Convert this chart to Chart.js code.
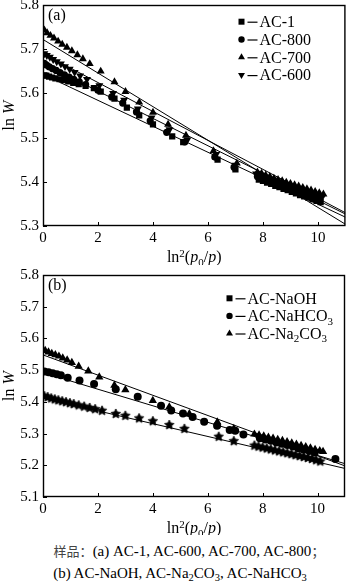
<!DOCTYPE html>
<html>
<head>
<meta charset="utf-8">
<script src="https://cdn.jsdelivr.net/npm/chart.js@4/dist/chart.umd.min.js"></script>
<style>
  html, body { margin: 0; padding: 0; background: #fff; }
  #wrap { position: relative; width: 350px; height: 587px; overflow: hidden; }
  canvas { position: absolute; left: 0; }
  #cA { top: 0; }
  #cB { top: 265px; }
  .cap { position: absolute; left: 0; text-align: center; white-space: nowrap;
         font-family: "Liberation Serif", "Times New Roman", serif; font-size: 15px;
         line-height: 20px; color: #000; }
  .cap .zh { font-family: "Noto Sans CJK SC", sans-serif; font-size: 13px; color: #444; }
  .cap sub { font-size: 70%; vertical-align: -0.25em; line-height: 0; }
</style>
</head>
<body>
<div id="wrap">
  <canvas id="cA" width="350" height="265" style="width:350px;height:265px"></canvas>
  <canvas id="cB" width="350" height="270" style="width:350px;height:270px"></canvas>
  <div class="cap" style="top:541px;width:378px"><span class="zh">样品：</span>(a) AC-1, AC-600, AC-700, AC-800<span class="zh">；</span></div>
  <div class="cap" style="top:563px;width:360px">(b) AC-NaOH, AC-Na<sub>2</sub>CO<sub>3</sub>, AC-NaHCO<sub>3</sub></div>
</div>
<script>
const SERIF = '"Liberation Serif", "Times New Roman", serif';

// ---- axis ticks ----
const xTickValues = [0, 2, 4, 6, 8, 10];
const yTicksA = [5.3, 5.4, 5.5, 5.6, 5.7, 5.8];
const yTicksB = [5.1, 5.2, 5.3, 5.4, 5.5, 5.6, 5.7, 5.8];

// ---- panel (a): ln W versus ln^2(p0/p) ----
const x_AC1 = [0.05,0.12,0.22,0.33,0.45,0.6,0.75,0.92,1.1,1.3,1.55,1.85,2.1,2.6,3.05,3.5,4.0,4.7,5.1,6.35,7.0,7.85,8.0,8.15,8.3,8.45,8.6,8.75,8.9,9.05,9.2,9.35,9.5,9.65,9.8,9.95,10.1];
const y_AC1 = [5.641,5.640,5.638,5.636,5.634,5.632,5.630,5.627,5.624,5.621,5.617,5.612,5.604,5.588,5.568,5.550,5.530,5.503,5.490,5.450,5.428,5.405,5.402,5.398,5.395,5.391,5.388,5.384,5.381,5.377,5.374,5.370,5.367,5.364,5.360,5.357,5.354];

const x_AC800 = [0.05,0.13,0.23,0.35,0.48,0.62,0.78,0.95,1.12,1.32,1.55,2.0,2.5,2.9,3.4,3.9,4.5,5.15,6.25,6.95,7.8,7.95,8.1,8.25,8.4,8.55,8.7,8.85,9.0,9.15,9.3,9.45,9.6,9.75,9.9,10.05];
const y_AC800 = [5.668,5.664,5.660,5.656,5.652,5.647,5.642,5.637,5.632,5.626,5.620,5.607,5.592,5.578,5.558,5.538,5.512,5.490,5.456,5.433,5.412,5.409,5.405,5.402,5.398,5.395,5.391,5.388,5.384,5.381,5.377,5.374,5.370,5.367,5.363,5.360];

const x_AC700 = [0.05,0.15,0.27,0.4,0.55,0.7,0.87,1.05,1.25,1.45,1.7,2.1,2.6,3.0,3.5,4.0,4.55,5.2,6.2,7.05,7.8,7.95,8.1,8.25,8.4,8.55,8.7,8.85,9.0,9.15,9.3,9.45,9.6,9.75,9.9,10.05,10.2];
const y_AC700 = [5.743,5.737,5.731,5.725,5.718,5.711,5.704,5.696,5.687,5.678,5.667,5.650,5.626,5.604,5.580,5.557,5.530,5.505,5.470,5.442,5.422,5.419,5.415,5.412,5.408,5.405,5.402,5.399,5.396,5.393,5.390,5.387,5.384,5.381,5.378,5.375,5.372];

const x_AC600 = [0.05,0.14,0.25,0.37,0.5,0.65,0.8,0.97,1.15,1.35,1.6,2.05,2.55,2.95,3.45,3.95,4.6,5.25,6.3,7.0,7.75,7.9,8.05,8.2,8.35,8.5,8.65,8.8,8.95,9.1,9.25,9.4,9.55,9.7,9.85,10.0,10.15];
const y_AC600 = [5.690,5.686,5.682,5.677,5.672,5.667,5.661,5.655,5.648,5.640,5.632,5.618,5.600,5.585,5.565,5.545,5.518,5.495,5.462,5.438,5.418,5.415,5.411,5.408,5.404,5.401,5.397,5.394,5.391,5.387,5.384,5.381,5.377,5.374,5.371,5.368,5.365];

// straight-line fits, evaluated at both ends of the x range
const fitX = [0, 11];
const fit_AC1   = [5.643, 5.320];
const fit_AC800 = [5.667, 5.327];
const fit_AC700 = [5.722, 5.304];
const fit_AC600 = [5.690, 5.330];

// ---- panel (b) ----
const x_NaOH = [0.05,0.17,0.3,0.43,0.56,0.7,0.84,0.98,1.12,1.3,1.5,1.7,1.9,2.15,2.65,3.0,3.5,4.0,4.6,5.15,6.4,6.95,7.7,7.85,8.0,8.15,8.3,8.45,8.6,8.75,8.9,9.05,9.2,9.35,9.5,9.65,9.8,9.95,10.1];
const y_NaOH = [5.418,5.415,5.411,5.408,5.405,5.402,5.399,5.396,5.393,5.389,5.385,5.381,5.377,5.372,5.362,5.356,5.348,5.339,5.327,5.315,5.290,5.276,5.262,5.259,5.256,5.253,5.250,5.247,5.244,5.241,5.238,5.235,5.232,5.229,5.226,5.223,5.220,5.216,5.212];

const x_NaHCO3 = [0.05,0.2,0.35,0.5,0.65,0.9,1.33,1.86,2.65,3.45,4.3,4.67,5.1,5.45,5.87,6.34,6.8,7.0,7.3,7.9,8.1,8.3,8.5,8.7,8.9,9.1,9.3,9.5,9.7,9.9,10.65];
const y_NaHCO3 = [5.496,5.493,5.490,5.487,5.484,5.476,5.467,5.456,5.440,5.416,5.388,5.373,5.363,5.352,5.337,5.325,5.311,5.309,5.297,5.285,5.281,5.277,5.272,5.268,5.264,5.259,5.254,5.249,5.245,5.240,5.220];

const x_Na2CO3 = [0.08,0.2,0.32,0.45,0.58,0.72,0.88,1.05,1.3,1.65,2.05,2.6,3.0,4.0,4.6,5.33,6.35,6.95,7.7,7.87,8.04,8.21,8.38,8.55,8.72,8.89,9.06,9.23,9.4,9.57,9.74,9.91,10.08,10.2];
const y_Na2CO3 = [5.562,5.557,5.552,5.548,5.544,5.538,5.532,5.524,5.512,5.497,5.478,5.452,5.438,5.404,5.384,5.362,5.336,5.316,5.298,5.295,5.292,5.288,5.285,5.281,5.278,5.274,5.270,5.266,5.262,5.258,5.254,5.250,5.246,5.243];

const fit_NaOH   = [5.412, 5.190];
const fit_NaHCO3 = [5.492, 5.205];
const fit_Na2CO3 = [5.548, 5.198];

// ---------------------------------------------------------------------------
// small rich-text renderer: *italic*, _{sub}, ^{sup}
function parseRich(s) {
  const segs = []; let i = 0, italic = false, buf = '';
  const push = (t, mode) => { if (t) segs.push({ t, italic, mode }); };
  while (i < s.length) {
    const c = s[i];
    if (c === '*') { push(buf, 'n'); buf = ''; italic = !italic; i++; }
    else if ((c === '_' || c === '^') && s[i + 1] === '{') {
      push(buf, 'n'); buf = '';
      const j = s.indexOf('}', i);
      push(s.slice(i + 2, j), c === '_' ? 'sub' : 'sup');
      i = j + 1;
    } else { buf += c; i++; }
  }
  push(buf, 'n');
  return segs;
}
function drawRich(ctx, s, x, y, size, align) {
  const segs = parseRich(s);
  const fontFor = g => (g.italic ? 'italic ' : '') + (g.mode === 'n' ? size : Math.round(size * 0.68)) + 'px ' + SERIF;
  let w = 0;
  segs.forEach(g => { ctx.font = fontFor(g); g.w = ctx.measureText(g.t).width; w += g.w; });
  let cx = align === 'center' ? x - w / 2 : align === 'right' ? x - w : x;
  ctx.textAlign = 'left'; ctx.textBaseline = 'alphabetic';
  const base = y + size * 0.33;
  segs.forEach(g => {
    ctx.font = fontFor(g);
    const dy = g.mode === 'sub' ? size * 0.22 : g.mode === 'sup' ? -size * 0.36 : 0;
    ctx.fillText(g.t, cx, base + dy);
    cx += g.w;
  });
}

function drawMarker(ctx, style, x, y, r) {
  ctx.beginPath();
  if (style === 'rect') {
    const h = r * 0.75; ctx.rect(x - h, y - h, 2 * h, 2 * h);
  } else if (style === 'circle') {
    ctx.arc(x, y, r * 0.8, 0, Math.PI * 2);
  } else {
    const k = style === 'triangleDown' ? -1 : 1;
    ctx.moveTo(x, y - k * r); ctx.lineTo(x + r * 0.87, y + k * r * 0.5); ctx.lineTo(x - r * 0.87, y + k * r * 0.5);
    ctx.closePath();
  }
  ctx.fill();
}

function starImage(r) {
  const s = Math.ceil(r * 2) + 2;
  const c = document.createElement('canvas'); c.width = s; c.height = s;
  const g = c.getContext('2d'); g.fillStyle = '#000'; g.strokeStyle = '#000'; g.lineWidth = 0.8; g.beginPath();
  for (let k = 0; k < 10; k++) {
    const a = -Math.PI / 2 + k * Math.PI / 5, rr = k % 2 ? r * 0.5 : r;
    g.lineTo(s / 2 + rr * Math.cos(a), s / 2 + rr * Math.sin(a));
  }
  g.closePath(); g.fill(); g.stroke();
  return c;
}

// frame box with inward tick marks, plus titles, panel tag and legend
const decorPlugin = {
  id: 'decor',
  afterDatasetsDraw(chart, args, o) {
    const { ctx, chartArea: a, scales: { x, y } } = chart;
    ctx.save();
    ctx.strokeStyle = '#000'; ctx.lineWidth = 1.4;
    ctx.strokeRect(a.left + 0.5, a.top + 0.5, a.right - a.left - 1, a.bottom - a.top - 1);
    ctx.lineWidth = 1; ctx.beginPath();
    x.ticks.forEach(t => { const px = Math.round(x.getPixelForValue(t.value)) + 0.5; ctx.moveTo(px, a.bottom); ctx.lineTo(px, a.bottom - 4); });
    y.ticks.forEach(t => { const py = Math.round(y.getPixelForValue(t.value)) + 0.5; ctx.moveTo(a.left, py); ctx.lineTo(a.left + 4, py); });
    ctx.stroke();

    ctx.fillStyle = '#000';
    drawRich(ctx, o.xTitle, (a.left + a.right) / 2, o.xTitleY, 16, 'center');
    ctx.save();
    ctx.translate(o.yTitleX, (a.top + a.bottom) / 2); ctx.rotate(-Math.PI / 2);
    drawRich(ctx, o.yTitle, 0, 0, 16, 'center');
    ctx.restore();
    drawRich(ctx, o.tag, a.left + 5, a.top + o.tagDy, 16, 'left');

    const L = o.legend;
    L.items.forEach((it, i) => {
      const yy = L.y + i * L.dy;
      drawMarker(ctx, it.marker, L.x, yy, 4);
      ctx.beginPath(); ctx.moveTo(L.x + 6, yy + 0.5); ctx.lineTo(L.x + 16, yy + 0.5); ctx.lineWidth = 1.2; ctx.stroke();
      drawRich(ctx, chart.data.datasets[it.ds].label, L.x + 18, yy, 16, 'left');
    });
    ctx.restore();
  }
};

function pts(xs, ys) { return xs.map((v, i) => ({ x: v, y: ys[i] })); }
function scatterSet(label, xs, ys, style, r, rot) {
  return { type: 'scatter', label, data: pts(xs, ys), pointStyle: style, pointRadius: r, pointRotation: rot || 0,
           pointBackgroundColor: '#000', pointBorderColor: '#000', pointBorderWidth: 0, order: 1 };
}
function fitSet(vals) {
  return { type: 'line', label: '', data: pts(fitX, vals), borderColor: '#000', borderWidth: 1,
           pointRadius: 0, fill: false, tension: 0, order: 2 };
}

function makeChart(id, datasets, yTicks, xHeight, padTop, decor) {
  return new Chart(document.getElementById(id), {
    data: { datasets },
    plugins: [decorPlugin],
    options: {
      responsive: false, animation: false, devicePixelRatio: 1,
      layout: { padding: { top: padTop, right: 1, bottom: 0, left: 0 } },
      plugins: { legend: { display: false }, tooltip: { enabled: false }, decor },
      scales: {
        x: {
          type: 'linear', min: 0, max: 11,
          afterBuildTicks: s => { s.ticks = xTickValues.map(v => ({ value: v })); },
          afterFit: s => { s.height = xHeight; s.paddingLeft = 0; s.paddingRight = 0; },
          grid: { display: false, drawTicks: false }, border: { display: false },
          ticks: { color: '#000', font: { family: SERIF, size: 15 }, padding: 3, maxRotation: 0, autoSkip: false }
        },
        y: {
          type: 'linear', min: yTicks[0], max: yTicks[yTicks.length - 1],
          afterBuildTicks: s => { s.ticks = yTicks.map(v => ({ value: v })); },
          afterFit: s => { s.width = 43; s.paddingTop = 0; s.paddingBottom = 0; },
          grid: { display: false, drawTicks: false }, border: { display: false },
          ticks: { color: '#000', font: { family: SERIF, size: 15 }, padding: 4, autoSkip: false, callback: v => v.toFixed(1) }
        }
      }
    }
  });
}

// panel (a)
makeChart('cA', [
  scatterSet('AC-1', x_AC1, y_AC1, 'rect', 4.4),
  scatterSet('AC-800', x_AC800, y_AC800, 'circle', 3.6),
  scatterSet('AC-700', x_AC700, y_AC700, 'triangle', 4.6),
  scatterSet('AC-600', x_AC600, y_AC600, 'triangle', 4.6, 180),
  fitSet(fit_AC1), fitSet(fit_AC800), fitSet(fit_AC700), fitSet(fit_AC600)
], yTicksA, 39, 5, {
  xTitle: 'ln^{2}(*p*_{0}/*p*)', xTitleY: 257, yTitle: 'ln *W*', yTitleX: 9, tag: '(a)', tagDy: 10,
  legend: { x: 241.5, y: 21.7, dy: 17.8, items: [
    { ds: 0, marker: 'rect' }, { ds: 1, marker: 'circle' }, { ds: 2, marker: 'triangle' }, { ds: 3, marker: 'triangleDown' }
  ] }
});

// panel (b)
const star = starImage(5);
makeChart('cB', [
  scatterSet('AC-NaOH', x_NaOH, y_NaOH, star, 5),
  scatterSet('AC-NaHCO_{3}', x_NaHCO3, y_NaHCO3, 'circle', 4),
  scatterSet('AC-Na_{2}CO_{3}', x_Na2CO3, y_Na2CO3, 'triangle', 4.8),
  fitSet(fit_NaOH), fitSet(fit_NaHCO3), fitSet(fit_Na2CO3)
], yTicksB, 38, 10, {
  xTitle: 'ln^{2}(*p*_{0}/*p*)', xTitleY: 263, yTitle: 'ln *W*', yTitleX: 9, tag: '(b)', tagDy: 10,
  legend: { x: 229.5, y: 33.3, dy: 17.6, items: [
    { ds: 0, marker: 'rect' }, { ds: 1, marker: 'circle' }, { ds: 2, marker: 'triangle' }
  ] }
});
</script>
</body>
</html>
